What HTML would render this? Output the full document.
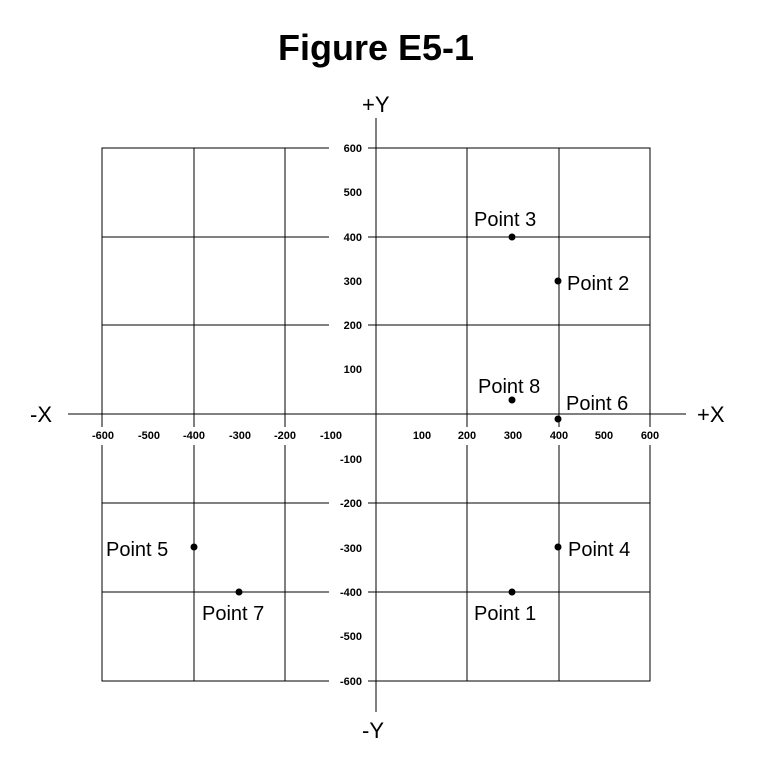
<!DOCTYPE html>
<html><head><style>body{margin:0;background:#fff}svg{display:block}</style></head><body>
<svg width="764" height="757" viewBox="0 0 764 757" xmlns="http://www.w3.org/2000/svg" font-family="Liberation Sans, Arial, sans-serif">
<rect width="764" height="757" fill="#fff"/>
<text x="376" y="60" font-size="36" font-weight="bold" text-anchor="middle">Figure E5-1</text>
<g stroke="#000" stroke-width="1" fill="none">
<rect x="102" y="148" width="548" height="533"/>
<line x1="194" y1="148" x2="194" y2="681"/>
<line x1="285" y1="148" x2="285" y2="681"/>
<line x1="467" y1="148" x2="467" y2="681"/>
<line x1="559" y1="148" x2="559" y2="681"/>
<line x1="102" y1="237" x2="650" y2="237"/>
<line x1="102" y1="325" x2="650" y2="325"/>
<line x1="102" y1="503" x2="650" y2="503"/>
<line x1="102" y1="592" x2="650" y2="592"/>
</g>
<g fill="#fff">
<rect x="329" y="144" width="39" height="8"/><rect x="329" y="233" width="39" height="8"/>
<rect x="329" y="321" width="39" height="8"/><rect x="329" y="499" width="39" height="8"/>
<rect x="329" y="588" width="39" height="8"/><rect x="329" y="677" width="39" height="8"/>
<rect x="98" y="427" width="8" height="18"/><rect x="190" y="427" width="8" height="18"/>
<rect x="281" y="427" width="8" height="18"/><rect x="463" y="427" width="8" height="18"/>
<rect x="555" y="427" width="8" height="18"/><rect x="646" y="427" width="8" height="18"/>
</g>
<line x1="68" y1="414" x2="686" y2="414" stroke="#000"/>
<line x1="376" y1="118" x2="376" y2="712" stroke="#000"/>
<g font-size="22">
<text x="30" y="422">-X</text>
<text x="697" y="422">+X</text>
<text x="362" y="112">+Y</text>
<text x="362" y="738">-Y</text>
</g>
<g font-size="11" font-weight="bold" text-anchor="end">
<text x="362" y="152">600</text><text x="362" y="196">500</text><text x="362" y="241">400</text>
<text x="362" y="285">300</text><text x="362" y="329">200</text><text x="362" y="373">100</text>
<text x="362" y="463">-100</text><text x="362" y="507">-200</text><text x="362" y="552">-300</text>
<text x="362" y="596">-400</text><text x="362" y="640">-500</text><text x="362" y="685">-600</text>
</g>
<g font-size="11" font-weight="bold" text-anchor="middle">
<text x="103" y="439">-600</text><text x="149" y="439">-500</text><text x="194" y="439">-400</text>
<text x="240" y="439">-300</text><text x="285" y="439">-200</text><text x="331" y="439">-100</text>
<text x="422" y="439">100</text><text x="467" y="439">200</text><text x="513" y="439">300</text>
<text x="559" y="439">400</text><text x="604" y="439">500</text><text x="650" y="439">600</text>
</g>
<g fill="#000">
<circle cx="512" cy="237" r="3.5"/><circle cx="558" cy="281" r="3.5"/>
<circle cx="512" cy="400" r="3.5"/><circle cx="558" cy="419" r="3.5"/>
<circle cx="558" cy="547" r="3.5"/><circle cx="512" cy="592" r="3.5"/>
<circle cx="194" cy="547" r="3.5"/><circle cx="239" cy="592" r="3.5"/>
</g>
<g font-size="20">
<text x="474" y="226">Point 3</text>
<text x="567" y="290">Point 2</text>
<text x="478" y="393">Point 8</text>
<text x="566" y="410">Point 6</text>
<text x="568" y="556">Point 4</text>
<text x="474" y="620">Point 1</text>
<text x="106" y="556">Point 5</text>
<text x="202" y="620">Point 7</text>
</g>
</svg>
</body></html>
